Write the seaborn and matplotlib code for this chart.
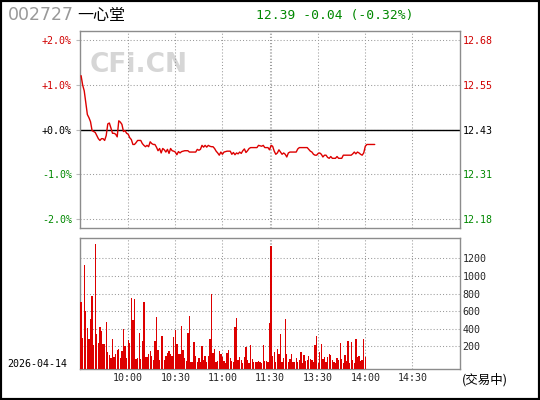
import numpy as np
import pandas as pd
import matplotlib
matplotlib.use("Agg")
import matplotlib.pyplot as plt
import seaborn as sns
from matplotlib.patches import Rectangle

# ---------------- data ----------------
stock_code = "002727"
stock_name = "一心堂"
quote_text = "12.39 -0.04 (-0.32%)"
date_text = "2026-04-14"
status_text = "(交易中)"
watermark = "CFi.CN"

pct_ticks = [2.0, 1.0, 0.0, -1.0, -2.0]
pct_labels = ["+2.0%", "+1.0%", "+0.0%", "-1.0%", "-2.0%"]
price_labels = ["12.68", "12.55", "12.43", "12.31", "12.18"]
label_colors = ["#d00000", "#d00000", "#000000", "#008800", "#008800"]

time_positions = [30, 60, 90, 120, 151, 181, 211]
time_labels = ["10:00", "10:30", "11:00", "11:30", "13:30", "14:00", "14:30"]
grid_minutes = [30, 60, 90, 120, 121, 151, 181, 211]

vol_ticks = [200, 400, 600, 800, 1000, 1200]
vol_labels = ["200", "400", "600", "800", "1000", "1200"]

# percent change vs previous close, one value per trading minute
pct_change = [
    1.21, 1.00, 0.87, 0.60, 0.34, 0.27, 0.18, -0.02, -0.04, -0.06,
    -0.13, -0.20, -0.24, -0.20, -0.20, -0.24, -0.13, 0.13, 0.15, 0.04,
    -0.08, -0.08, -0.10, -0.16, 0.20, 0.17, 0.12, -0.04, -0.02, -0.08,
    -0.10, -0.18, -0.22, -0.33, -0.33, -0.29, -0.24, -0.24, -0.24, -0.31,
    -0.35, -0.38, -0.35, -0.38, -0.27, -0.31, -0.33, -0.33, -0.39, -0.47,
    -0.42, -0.52, -0.42, -0.45, -0.50, -0.44, -0.53, -0.42, -0.47, -0.48,
    -0.50, -0.56, -0.49, -0.52, -0.49, -0.48, -0.47, -0.47, -0.47, -0.50,
    -0.50, -0.50, -0.50, -0.50, -0.44, -0.46, -0.44, -0.35, -0.39, -0.35,
    -0.39, -0.35, -0.37, -0.38, -0.38, -0.42, -0.48, -0.52, -0.57, -0.50,
    -0.55, -0.50, -0.49, -0.48, -0.48, -0.48, -0.55, -0.51, -0.56, -0.52,
    -0.54, -0.50, -0.53, -0.47, -0.43, -0.51, -0.47, -0.42, -0.40, -0.40,
    -0.40, -0.40, -0.40, -0.35, -0.36, -0.37, -0.35, -0.40, -0.40, -0.40,
    -0.45, -0.35, -0.37, -0.48, -0.55, -0.52, -0.45, -0.50, -0.55, -0.52,
    -0.55, -0.61, -0.52, -0.50, -0.50, -0.50, -0.50, -0.50, -0.43, -0.40,
    -0.40, -0.40, -0.40, -0.40, -0.40, -0.44, -0.48, -0.50, -0.55, -0.57,
    -0.57, -0.53, -0.52, -0.55, -0.61, -0.57, -0.57, -0.62, -0.64, -0.60,
    -0.64, -0.64, -0.64, -0.60, -0.64, -0.64, -0.64, -0.57, -0.57, -0.57,
    -0.57, -0.57, -0.57, -0.54, -0.50, -0.54, -0.50, -0.52, -0.55, -0.57,
    -0.52, -0.37, -0.33, -0.33, -0.33, -0.33, -0.33, -0.33,
]

# volume per trading minute
volume = [
    709, 300, 1126, 603, 405, 284, 512, 773, 216, 1364,
    341, 243, 421, 375, 227, 227, 478, 140, 102, 72,
    284, 80, 114, 159, 170, 72, 150, 398, 205, 72,
    269, 243, 750, 500, 739, 57, 72, 352, 57, 262,
    705, 80, 80, 114, 148, 91, 42, 262, 534, 159,
    45, 318, 318, 45, 91, 125, 148, 114, 95, 307,
    387, 231, 114, 114, 432, 159, 68, 34, 352, 546,
    27, 23, 250, 91, 27, 68, 27, 205, 45, 91,
    23, 91, 284, 796, 125, 170, 23, 34, 148, 114,
    80, 38, 11, 125, 159, 68, 34, 27, 421, 523,
    45, 80, 45, 11, 80, 193, 45, 11, 216, 57,
    23, 23, 27, 34, 23, 15, 216, 34, 34, 23,
    466, 1338, 91, 136, 23, 170, 114, 341, 23, 68,
    512, 114, 23, 57, 114, 23, 23, 68, 23, 45,
    136, 11, 102, 34, 40, 91, 57, 45, 23, 216,
    318, 15, 136, 227, 57, 80, 23, 80, 114, 102,
    45, 23, 11, 68, 40, 239, 57, 11, 102, 30,
    262, 11, 250, 45, 11, 284, 80, 91, 30, 45,
    284, 80,
]

# ---------------- styling ----------------
sns.set_style("white")
plt.rcParams["font.family"] = ["DejaVu Sans Mono", "Noto Sans CJK SC"]

W, H = 540, 400
RED = "#dd0000"
FRAME = "#8c8c8c"
GRID = "#9a9a9a"
MONO = "DejaVu Sans Mono"
CJK = ["Noto Sans CJK SC", "DejaVu Sans"]
TICK_FS = 7.2
dotted = (0, (1, 2))

fig = plt.figure(figsize=(W / 100, H / 100), dpi=100)
fig.patch.set_facecolor("white")

left, right = 80.3, 460.3
ax = fig.add_axes([left / W, (H - 228) / H, (right - left) / W, 197 / H])
axv = fig.add_axes([left / W, (H - 369.3) / H, (right - left) / W, 131 / H])

# ---------------- price panel ----------------
df_p = pd.DataFrame({"minute": np.arange(len(pct_change)), "pct": pct_change})
sns.lineplot(data=df_p, x="minute", y="pct", ax=ax, color=RED, linewidth=1.0, zorder=3)
ax.set_xlim(-0.5, 241.5)
ax.set_ylim(-2.2, 2.21)
ax.set_xlabel("")
ax.set_ylabel("")
ax.set_xticks(grid_minutes)
ax.set_yticks(pct_ticks)
ax.set_yticklabels(pct_labels, fontsize=TICK_FS, family=MONO)
for lbl, c in zip(ax.get_yticklabels(), label_colors):
    lbl.set_color(c)
ax.tick_params(axis="x", length=0, labelbottom=False)
ax.tick_params(axis="y", length=3, color="#bbbbbb", pad=3, width=0.8)
ax.grid(True, color=GRID, linestyle=dotted, linewidth=0.75, zorder=1)
ax.axhline(0, color="black", linewidth=1.0, zorder=2)
for s in ax.spines.values():
    s.set_color(FRAME)
    s.set_linewidth(1.0)

axr = ax.twinx()
axr.set_ylim(ax.get_ylim())
axr.set_yticks(pct_ticks)
axr.set_yticklabels(price_labels, fontsize=TICK_FS, family=MONO)
for lbl, c in zip(axr.get_yticklabels(), label_colors):
    lbl.set_color(c)
axr.tick_params(axis="y", length=0, pad=1.5)
axr.grid(False)
for s in axr.spines.values():
    s.set_visible(False)

ax.text(90 / W, 1 - 65.5 / H, watermark, transform=fig.transFigure,
        fontsize=19, fontweight="bold", family="DejaVu Sans", color="#d6d6d6",
        va="center", ha="left", zorder=0)

# ---------------- volume panel ----------------
df_v = pd.DataFrame({"minute": np.arange(len(volume)), "volume": volume})
sns.barplot(data=df_v, x="minute", y="volume", ax=axv, native_scale=True,
            color=RED, saturation=1, width=0.85, errorbar=None, linewidth=0, zorder=3)
vbottom, vtop = -60, 1428
axv.set_xlim(-0.5, 241.5)
axv.set_ylim(vbottom, vtop)
for p in axv.patches:
    top = p.get_y() + p.get_height()
    p.set_y(vbottom)
    p.set_height(top - vbottom)
axv.set_xlabel("")
axv.set_ylabel("")
axv.set_yticks(vol_ticks)
axv.set_yticklabels(vol_labels, fontsize=TICK_FS, family=MONO)
axv.yaxis.tick_right()
axv.tick_params(axis="y", length=0, pad=1.5)
axv.set_xticks(time_positions)
axv.set_xticklabels(time_labels, fontsize=TICK_FS, family=MONO)
axv.tick_params(axis="x", length=0, pad=3)
axv.xaxis.set_minor_locator(matplotlib.ticker.FixedLocator([121]))
axv.grid(True, which="both", color=GRID, linestyle=dotted, linewidth=0.75, zorder=1)
axv.set_axisbelow(True)
for s in axv.spines.values():
    s.set_color(FRAME)
    s.set_linewidth(1.0)

# ---------------- header / footer text ----------------
fig.text(8 / W, 1 - 15.5 / H, stock_code, fontsize=12.5, family="DejaVu Sans",
         color="#999999", va="center", ha="left")
fig.text(77 / W, 1 - 15.5 / H, stock_name, fontsize=11.5, family=CJK,
         color="black", va="center", ha="left")
fig.text(256 / W, 1 - 15.5 / H, quote_text, fontsize=9.4, family=MONO,
         color="#008800", va="center", ha="left")
fig.text(7 / W, 1 - 364 / H, date_text, fontsize=TICK_FS, family=MONO,
         color="black", va="center", ha="left")
fig.text(462 / W, 1 - 380 / H, status_text, fontsize=9, family=CJK,
         color="black", va="center", ha="left")

fig.add_artist(Rectangle((0, 0), 1, 1, transform=fig.transFigure, fill=False,
                         edgecolor="black", linewidth=3))

fig.savefig("out.png", dpi=100, facecolor="white")
